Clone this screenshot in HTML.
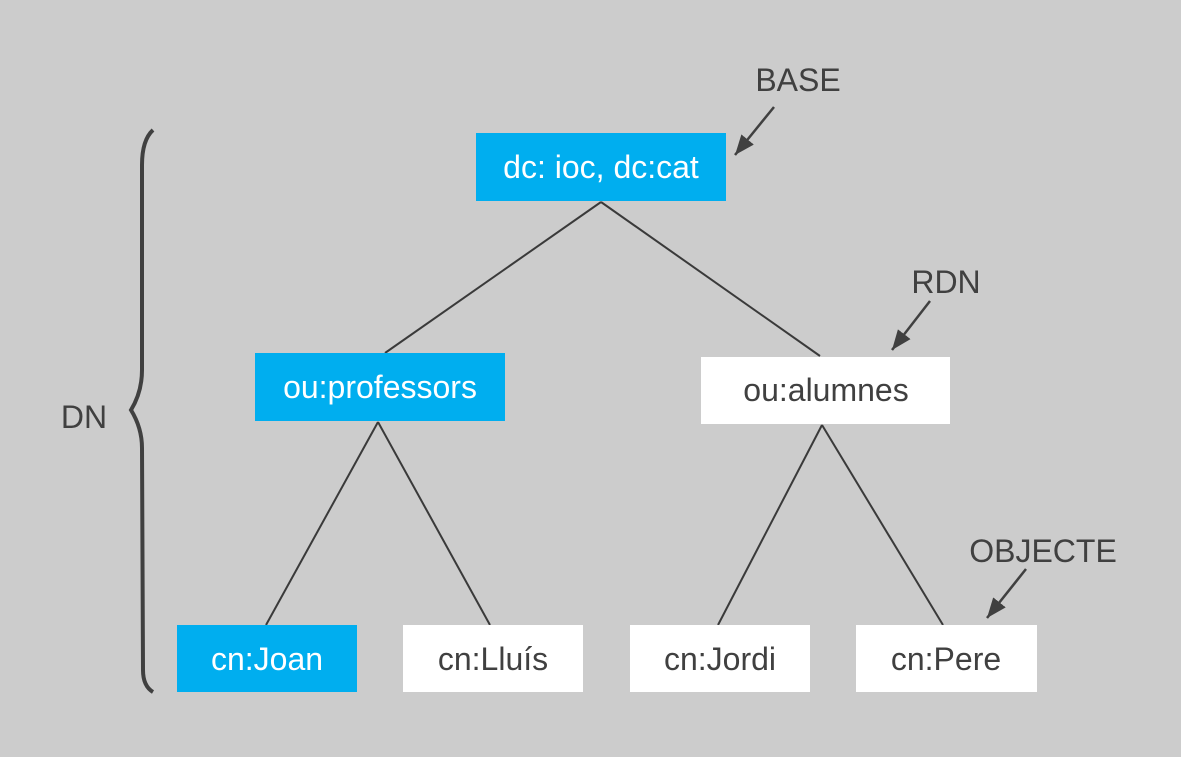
<!DOCTYPE html>
<html><head><meta charset="utf-8"><style>
html,body{margin:0;padding:0;background:#cccccc;}
svg{display:block;}
text{font-family:"Liberation Sans",Arial,sans-serif;font-size:32px;}
</style></head><body>
<svg width="1181" height="757" viewBox="0 0 1181 757" xmlns="http://www.w3.org/2000/svg">
<rect width="1181" height="757" fill="#cccccc"/>
<defs>
<marker id="b" viewBox="0 0 20 16" refX="20" refY="8" markerWidth="20" markerHeight="16" orient="auto" markerUnits="userSpaceOnUse"><path d="M0,0 L20,8 L0,16 z" fill="#404040"/></marker></defs>
<g stroke="#3a3a3a" stroke-width="2" fill="none">
<line x1="601" y1="202" x2="385" y2="353"/>
<line x1="601" y1="202" x2="820" y2="356"/>
<line x1="378" y1="422" x2="266" y2="625"/>
<line x1="378" y1="422" x2="490" y2="625"/>
<line x1="822" y1="425" x2="718" y2="625"/>
<line x1="822" y1="425" x2="943" y2="625"/>
</g>
<g stroke="#404040" stroke-width="2.5" fill="none">
<line x1="774" y1="107" x2="735" y2="155" marker-end="url(#b)"/>
<line x1="930" y1="301" x2="892" y2="350" marker-end="url(#b)"/>
<line x1="1026" y1="569" x2="987" y2="618" marker-end="url(#b)"/>
</g>
<path d="M153,130 Q142,140 142,165 L142,370 Q142,392 131,410 Q142,428 142,448 L143,670 Q143,686 153,692" stroke="#404040" stroke-width="4" fill="none"/>
<rect x="476" y="133" width="250" height="68" fill="#00aeef"/>
<rect x="255" y="353" width="250" height="68" fill="#00aeef"/>
<rect x="701" y="357" width="249" height="67" fill="#fff"/>
<rect x="177" y="625" width="180" height="67" fill="#00aeef"/>
<rect x="403" y="625" width="180" height="67" fill="#fff"/>
<rect x="630" y="625" width="180" height="67" fill="#fff"/>
<rect x="856" y="625" width="181" height="67" fill="#fff"/>
<g text-anchor="middle">
<text x="601" y="178" fill="#fff">dc: ioc, dc:cat</text>
<text x="380" y="398" fill="#fff">ou:professors</text>
<text x="826" y="401" fill="#404040">ou:alumnes</text>
<text x="267" y="670" fill="#fff">cn:Joan</text>
<text x="493" y="670" fill="#404040">cn:Lluís</text>
<text x="720" y="670" fill="#404040">cn:Jordi</text>
<text x="946" y="670" fill="#404040">cn:Pere</text>
<text x="798" y="91" fill="#404040">BASE</text>
<text x="946" y="293" fill="#404040">RDN</text>
<text x="1043" y="562" fill="#404040">OBJECTE</text>
<text x="84" y="428" fill="#404040">DN</text>
</g>
</svg>
</body></html>
